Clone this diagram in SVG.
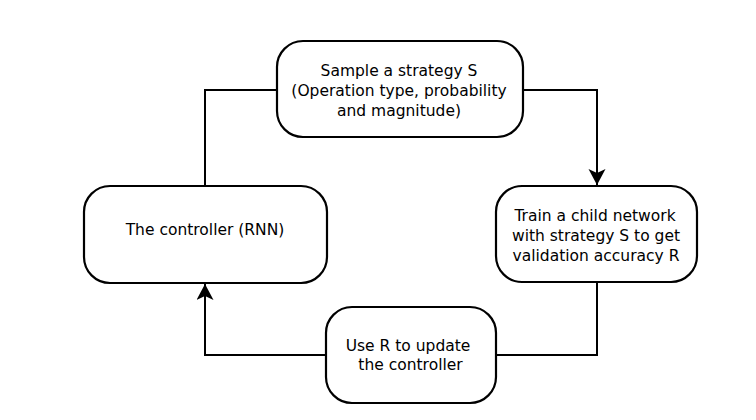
<svg xmlns="http://www.w3.org/2000/svg" width="756" height="420" viewBox="0 0 756 420">
<style>
.box{fill:#fff;stroke:#000;stroke-width:2.2}
.lbl{font-family:"DejaVu Sans",sans-serif;font-size:15.5px;fill:#000;text-anchor:middle}
.ln{fill:none;stroke:#000;stroke-width:2}
</style>
<defs>
<marker id="ah" markerWidth="18" markerHeight="18" refX="16" refY="8.5" orient="auto" markerUnits="userSpaceOnUse">
<path d="M16,8.5 L0,0 L4,8.5 L0,17 Z" fill="#000"/>
</marker>
</defs>
<rect width="756" height="420" fill="#fff"/>
<g id="connectors">
<path class="ln" d="M277,90 H205 V186"/>
<path class="ln" d="M523,90 H597 V185" marker-end="url(#ah)"/>
<path class="ln" d="M597,282 V355 H496"/>
<path class="ln" d="M326,355 H205 V284" marker-end="url(#ah)"/>
</g>
<g id="sample">
<rect class="box" x="277" y="41" width="246" height="96" rx="26"/>
<text class="lbl" x="399" y="76">Sample a strategy S</text>
<text class="lbl" x="399" y="96">(Operation type, probability</text>
<text class="lbl" x="399" y="116">and magnitude)</text>
</g>
<g id="train">
<rect class="box" x="496" y="186" width="201" height="96" rx="26"/>
<text class="lbl" x="595" y="221">Train a child network</text>
<text class="lbl" x="596" y="241">with strategy S to get</text>
<text class="lbl" x="596" y="261">validation accuracy R</text>
</g>
<g id="controller">
<rect class="box" x="84" y="186" width="243" height="97" rx="26"/>
<text class="lbl" x="205" y="235">The controller (RNN)</text>
</g>
<g id="update">
<rect class="box" x="326" y="307" width="170" height="96" rx="26"/>
<text class="lbl" x="408" y="351">Use R to update</text>
<text class="lbl" x="410.5" y="370">the controller</text>
</g>
</svg>
